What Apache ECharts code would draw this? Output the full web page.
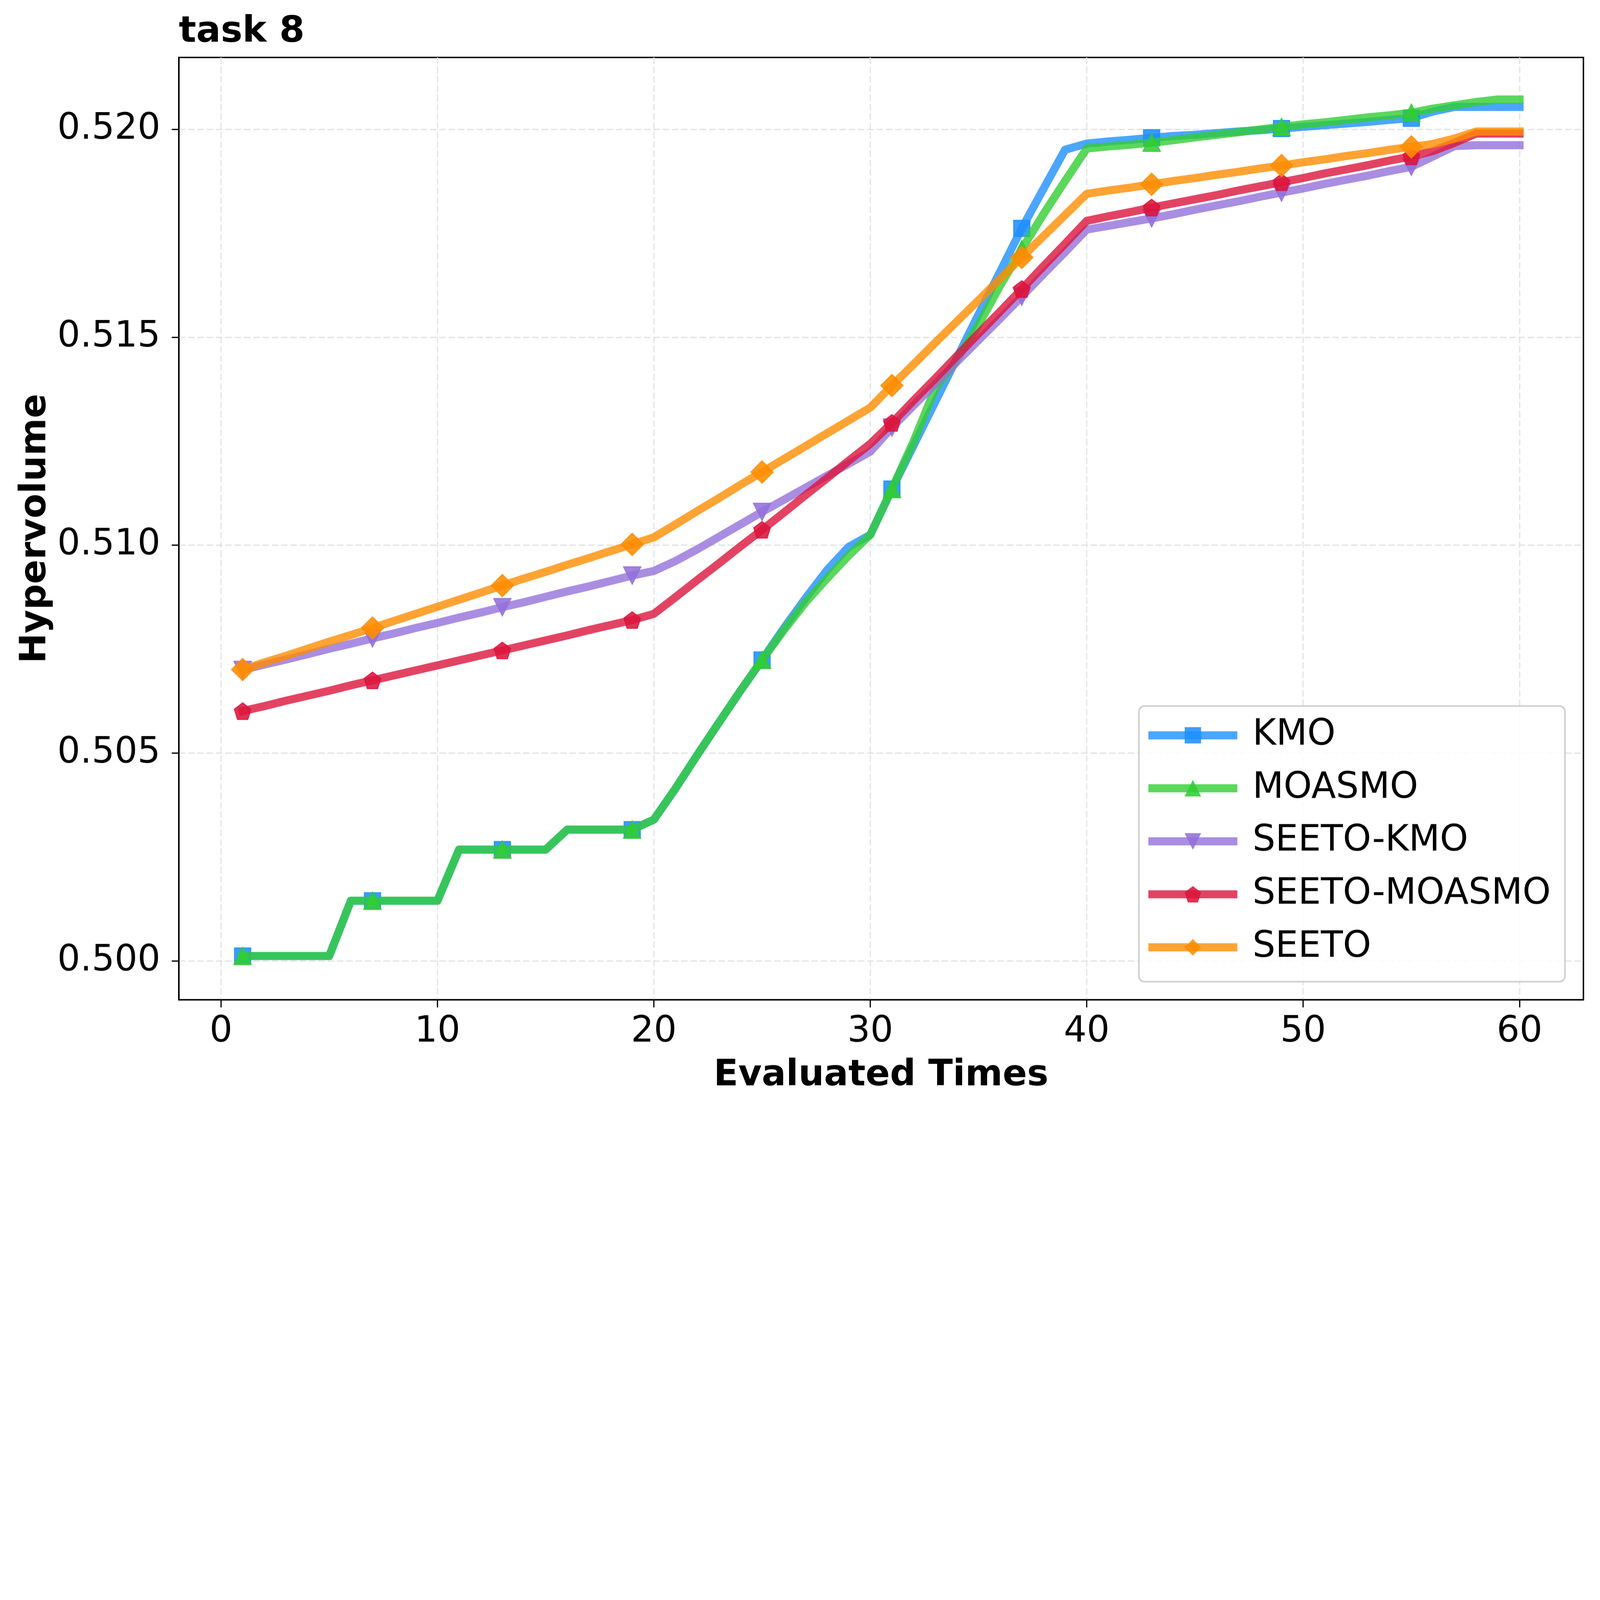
<!DOCTYPE html>
<html>
<head>
<meta charset="utf-8">
<script src="https://cdn.jsdelivr.net/npm/echarts@6/dist/echarts.min.js"></script>
<style>
html,body{margin:0;padding:0;background:#fff;overflow:hidden;}
#chart{width:7911px;height:5490px;transform-origin:0 0;}
</style>
</head>
<body>
<div id="chart"></div>
<script>
const evals = [1,2,3,4,5,6,7,8,9,10,11,12,13,14,15,16,17,18,19,20,21,22,23,24,25,26,27,28,29,30,31,32,33,34,35,36,37,38,39,40,41,42,43,44,45,46,47,48,49,50,51,52,53,54,55,56,57,58,59,60];
const seriesNames = ['KMO','MOASMO','SEETO-KMO','SEETO-MOASMO','SEETO'];
const xTicks = [0,10,20,30,40,50,60];
const yTicks = [0.500,0.505,0.510,0.515,0.520];

const kmo = [0.50012,0.50012,0.50012,0.50012,0.50012,0.50145,0.50145,0.50145,0.50145,0.50145,
  0.50268,0.50268,0.50268,0.50268,0.50268,0.50316,0.50316,0.50316,0.50316,0.50340,
  0.50415,0.50495,0.50573,0.50650,0.50724,0.50800,0.50872,0.50940,0.50996,0.51025,
  0.51135,0.51240,0.51345,0.51450,0.51555,0.51658,0.51762,0.51857,0.51951,0.51966,
  0.51971,0.51975,0.51980,0.51984,0.51987,0.51991,0.51995,0.51998,0.52002,0.52006,
  0.52010,0.52014,0.52018,0.52023,0.52027,0.52043,0.52054,0.52054,0.52054,0.52054];
const moasmo = [0.50012,0.50012,0.50012,0.50012,0.50012,0.50145,0.50145,0.50145,0.50145,0.50145,
  0.50268,0.50268,0.50268,0.50268,0.50268,0.50316,0.50316,0.50316,0.50316,0.50340,
  0.50415,0.50495,0.50573,0.50650,0.50724,0.50795,0.50862,0.50920,0.50975,0.51025,
  0.51135,0.51250,0.51377,0.51445,0.51530,0.51624,0.51712,0.51796,0.51876,0.51954,
  0.51959,0.51963,0.51968,0.51974,0.51981,0.51987,0.51993,0.52000,0.52006,0.52012,
  0.52017,0.52023,0.52029,0.52034,0.52040,0.52050,0.52058,0.52066,0.52072,0.52072];
const seetoKmo = [0.50700,0.50713,0.50725,0.50738,0.50751,0.50763,0.50776,0.50788,0.50801,0.50813,
  0.50826,0.50838,0.50851,0.50863,0.50876,0.50889,0.50901,0.50914,0.50927,0.50938,
  0.50962,0.50990,0.51020,0.51050,0.51080,0.51109,0.51138,0.51167,0.51196,0.51225,
  0.51283,0.51336,0.51388,0.51441,0.51493,0.51545,0.51598,0.51652,0.51705,0.51759,
  0.51768,0.51777,0.51786,0.51796,0.51807,0.51817,0.51827,0.51838,0.51848,0.51858,
  0.51869,0.51879,0.51889,0.51900,0.51910,0.51935,0.51960,0.51962,0.51962,0.51962];
const seetoMoasmo = [0.50601,0.50613,0.50626,0.50638,0.50650,0.50663,0.50675,0.50687,0.50699,0.50711,
  0.50723,0.50735,0.50747,0.50759,0.50771,0.50783,0.50796,0.50808,0.50820,0.50835,
  0.50875,0.50916,0.50956,0.50997,0.51037,0.51078,0.51120,0.51161,0.51203,0.51244,
  0.51294,0.51348,0.51401,0.51455,0.51509,0.51562,0.51616,0.51671,0.51725,0.51780,
  0.51791,0.51801,0.51812,0.51822,0.51832,0.51842,0.51853,0.51863,0.51873,0.51883,
  0.51894,0.51904,0.51914,0.51925,0.51935,0.51948,0.51968,0.51990,0.51990,0.51990];
const seeto = [0.50701,0.50718,0.50734,0.50751,0.50768,0.50784,0.50801,0.50818,0.50835,0.50852,
  0.50869,0.50886,0.50903,0.50920,0.50936,0.50953,0.50969,0.50986,0.51002,0.51019,
  0.51050,0.51082,0.51113,0.51145,0.51176,0.51207,0.51238,0.51269,0.51300,0.51331,
  0.51384,0.51435,0.51487,0.51538,0.51589,0.51641,0.51692,0.51743,0.51794,0.51845,
  0.51853,0.51860,0.51868,0.51876,0.51883,0.51891,0.51898,0.51906,0.51913,0.51921,
  0.51928,0.51936,0.51943,0.51951,0.51958,0.51965,0.51978,0.51995,0.51995,0.51995];

const allValues = [kmo, moasmo, seetoKmo, seetoMoasmo, seeto];
const colors = ['#1E90FF','#32CD32','#9370DB','#DC143C','#FF8C00'];
const symbols = ['rect','triangle','path://M0,0 L2,0 L1,2 Z',
  'path://M0,-1 L-0.951,-0.309 L-0.588,0.809 L0.588,0.809 L0.951,-0.309 Z','diamond'];
const symbolSizes = [80, 86, 86, 82, 110];

const FONT = 'DejaVu Sans';
const W = 7911, H = 5490;
const fit = Math.min(1, (window.innerWidth || W) / W, (window.innerHeight || H) / H);
const el = document.getElementById('chart');
if (fit < 1) { el.style.transform = 'scale(' + fit + ')'; }
const chart = echarts.init(el, null, { renderer: 'canvas', devicePixelRatio: fit < 1 ? fit : 1 });

const series = seriesNames.map((name, i) => ({
  name: name,
  type: 'line',
  data: evals.map((x, k) => [x, allValues[i][k]]),
  showAllSymbol: true,
  symbol: symbols[i],
  symbolSize: function (val, params) { return (params.dataIndex % 6 === 0) ? symbolSizes[i] : 0; },
  lineStyle: { color: colors[i], width: 40, opacity: 0.8, join: 'round', cap: 'square' },
  itemStyle: { color: colors[i], opacity: 0.88, borderColor: colors[i], borderWidth: 5 },
  emphasis: { disabled: true },
  z: 2 + i
}));

chart.setOption({
  animation: false,
  backgroundColor: '#ffffff',
  title: {
    text: 'task 8',
    left: 884, top: 70,
    padding: 0,
    textStyle: { fontFamily: FONT, fontSize: 180, fontWeight: 'bold', color: '#000' }
  },
  grid: {
    left: 884, right: 82, top: 284, bottom: 548,
    show: true, borderColor: '#000', borderWidth: 7, backgroundColor: 'transparent'
  },
  legend: {
    orient: 'vertical',
    left: 5631, top: 3490,
    padding: [55, 70, 80, 47],
    itemWidth: 400, itemHeight: 98, itemGap: 82,
    backgroundColor: 'rgba(255,255,255,0.85)',
    borderColor: '#d0d0d0', borderWidth: 8, borderRadius: 28,
    lineStyle: { width: 40 },
    textStyle: { fontFamily: FONT, fontSize: 178, color: '#000', lineHeight: 180, padding: [0,0,0,90] },
    data: seriesNames
  },
  xAxis: {
    type: 'value',
    min: -1.95, max: 62.95,
    name: 'Evaluated Times',
    nameLocation: 'middle',
    nameGap: 288,
    nameTextStyle: { fontFamily: FONT, fontSize: 178, fontWeight: 'bold', color: '#000' },
    axisLine: { show: true, onZero: false, lineStyle: { color: '#000', width: 7 } },
    axisTick: { show: true, inside: false, length: 38, lineStyle: { color: '#000', width: 6 }, customValues: xTicks },
    axisLabel: { show: true, margin: 72, fontFamily: FONT, fontSize: 178, color: '#000', customValues: xTicks,
      formatter: v => String(Math.round(v)) },
    splitLine: { show: true, lineStyle: { color: '#e3e3e3', width: 6, type: [32, 14] } }
  },
  yAxis: {
    type: 'value',
    min: 0.49907, max: 0.52173,
    name: 'Hypervolume',
    nameLocation: 'middle',
    nameGap: 618,
    nameTextStyle: { fontFamily: FONT, fontSize: 178, fontWeight: 'bold', color: '#000' },
    axisLine: { show: true, onZero: false, lineStyle: { color: '#000', width: 7 } },
    axisTick: { show: true, inside: false, length: 35, lineStyle: { color: '#000', width: 6 }, customValues: yTicks },
    axisLabel: { show: true, margin: 91, fontFamily: FONT, fontSize: 178, color: '#000', customValues: yTicks,
      formatter: v => v.toFixed(3) },
    splitLine: { show: true, lineStyle: { color: '#e3e3e3', width: 6, type: [32, 14] } }
  },
  series: series
});
</script>
</body>
</html>
